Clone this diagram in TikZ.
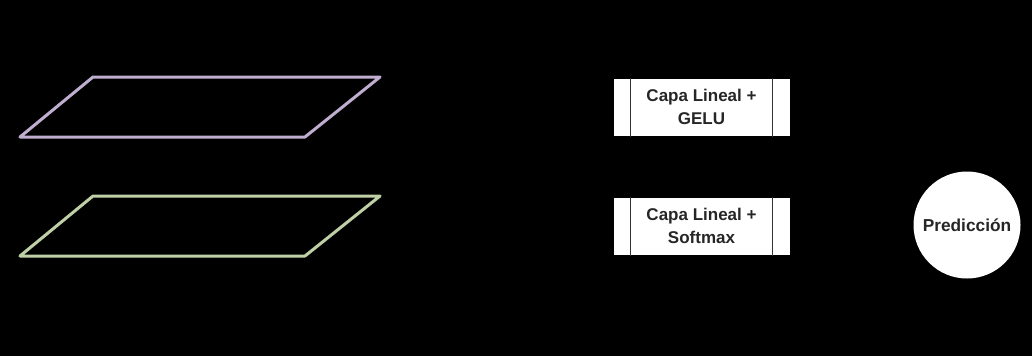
\documentclass[tikz,border=0pt]{standalone}
\usepackage{fontspec}
\setmainfont{Liberation Sans}
\definecolor{lav}{HTML}{BFAECF}
\definecolor{sage}{HTML}{BFD0A6}
\begin{document}
\begin{tikzpicture}[x=1pt,y=-1pt,
  para/.style={line width=3pt,line join=round},
  procbox/.style={draw=black,line width=1pt,fill=white,minimum width=177pt,minimum height=58pt,inner sep=0pt,
    font=\fontsize{17}{23}\selectfont\bfseries,align=center,text=black!85},
  predcirc/.style={circle,fill=white,draw=none,minimum size=107pt,inner sep=0pt,
    font=\fontsize{17.3}{20}\selectfont\bfseries,text=black!85}]
\useasboundingbox[fill=black] (0,0) rectangle (1032,356);
% parallelograms
\draw[para,lav] (93,77) -- (380,77) -- (305,137) -- (20,137) -- cycle;
\draw[para,sage] (93,196) -- (380,196) -- (305,256) -- (20,256) -- cycle;
% process boxes
\node[procbox] (gelu) at (701.5,107) {Capa Lineal +\\GELU};
\node[procbox] (soft) at (701.5,226) {Capa Lineal +\\Softmax};
\foreach \b in {gelu,soft}{
  \draw[black!80,line width=1pt] ([xshift=18pt]\b.north west) -- ([xshift=18pt]\b.south west);
  \draw[black!80,line width=1pt] ([xshift=-18pt]\b.north east) -- ([xshift=-18pt]\b.south east);
}
\node[predcirc] (pred) at (967,225) {Predicción};
\end{tikzpicture}
\end{document}
